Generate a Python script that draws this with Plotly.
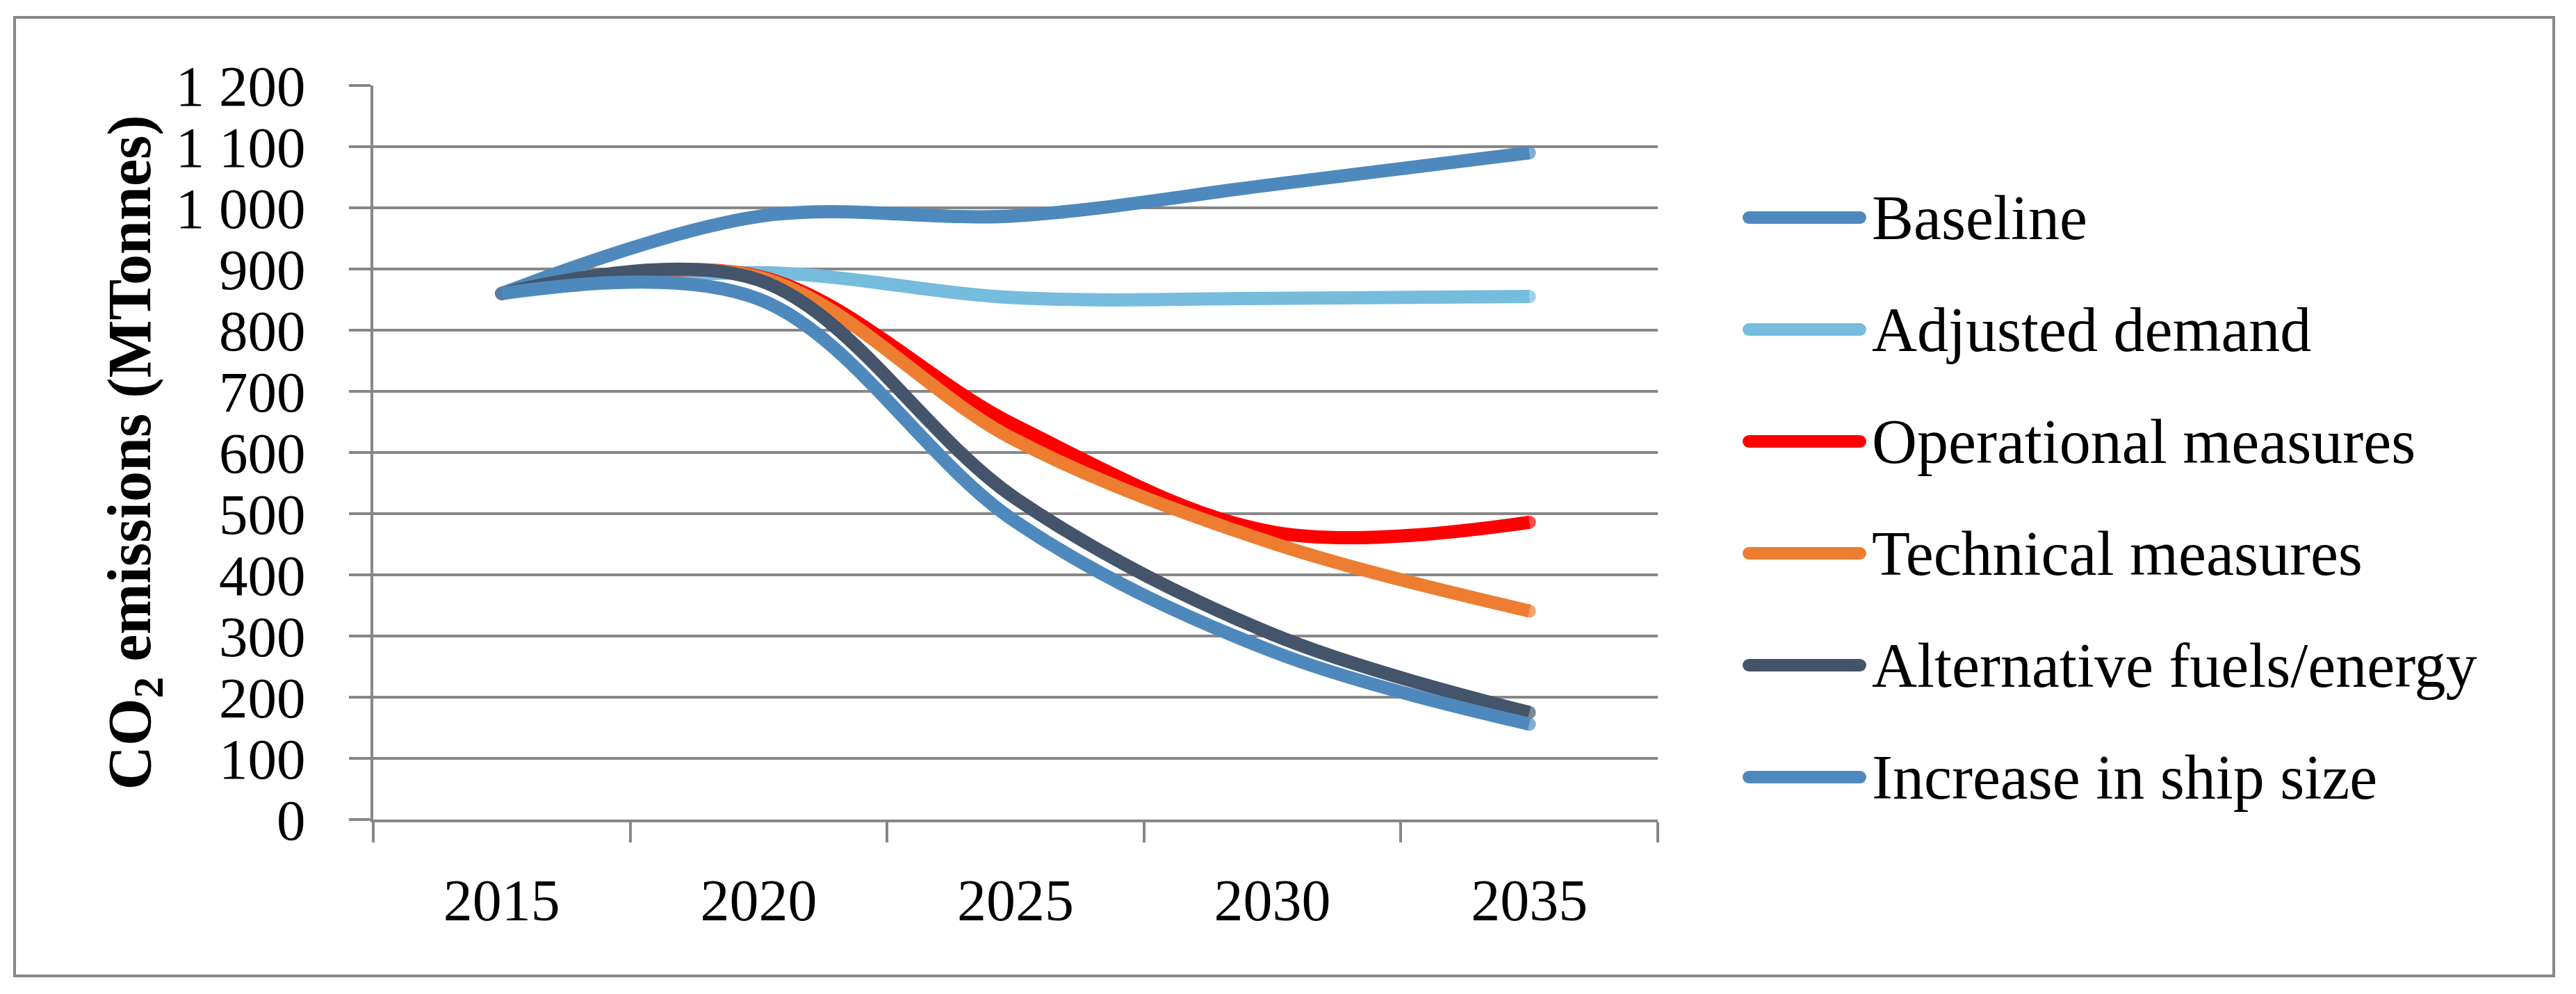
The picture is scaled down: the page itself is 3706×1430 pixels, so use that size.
import plotly.graph_objects as go

# ---- data ----
years = ["2015", "2020", "2025", "2030", "2035"]
baseline = [860, 986, 987, 1038, 1090]
adjusted_demand = [860, 894, 853, 852, 855]
operational = [860, 888, 644, 470, 486]
technical = [860, 887, 620, 452, 341]
alt_fuels = [860, 882, 525, 303, 175]
ship_size = [860, 851, 487, 275, 156]

series_names = ["Baseline", "Adjusted demand", "Operational measures",
                "Technical measures", "Alternative fuels/energy", "Increase in ship size"]
series_values = [baseline, adjusted_demand, operational, technical, alt_fuels, ship_size]
series_colors = ["#4E89BD", "#75BCDD", "#FF0000", "#ED7D31", "#44546A", "#4E89BD"]

y_tickvals = [0, 100, 200, 300, 400, 500, 600, 700, 800, 900, 1000, 1100, 1200]
y_ticktext = ["0", "100", "200", "300", "400", "500", "600", "700", "800", "900",
              "1 000", "1 100", "1 200"]

# ---- layout geometry (pixels) ----
W, H = 3706, 1430
PL, PR, PT, PB = 537, 2385, 123, 1179
FONT = "Liberation Serif"
GRID = "#878787"
LW = 19


def px_x(px):
    return (px - PL) / (PR - PL)


def px_y(py):
    return (PB - py) / (PB - PT)


fig = go.Figure()
for name, vals, col in zip(series_names, series_values, series_colors):
    n = len(vals)
    fig.add_trace(go.Scatter(
        x=years, y=vals, name=name, mode="lines+markers",
        line=dict(color=col, width=LW, shape="spline", smoothing=1.0),
        marker=dict(color=col, size=[LW if i in (0, n - 1) else 0 for i in range(n)],
                    line=dict(width=0)),
        showlegend=False, hoverinfo="x+y+name",
    ))

shapes = []
annotations = []
# outer frame
shapes.append(dict(type="rect", xref="paper", yref="paper",
                   x0=px_x(21), x1=px_x(3674), y0=px_y(1404), y1=px_y(25),
                   line=dict(color=GRID, width=4), layer="below"))
# legend (line samples with rounded ends + labels)
leg_y0, leg_step = 313, 161
lx0, lx1 = 2516, 2676
r = 9
for i, (name, col) in enumerate(zip(series_names, series_colors)):
    yy = px_y(leg_y0 + i * leg_step)
    shapes.append(dict(type="line", xref="paper", yref="paper",
                       x0=px_x(lx0), x1=px_x(lx1), y0=yy, y1=yy,
                       line=dict(color=col, width=18)))
    for cx in (lx0, lx1):
        shapes.append(dict(type="circle", xref="paper", yref="paper",
                           xsizemode="pixel", ysizemode="pixel",
                           xanchor=px_x(cx), yanchor=yy,
                           x0=-r, x1=r, y0=-r, y1=r,
                           fillcolor=col, line=dict(width=0)))
    annotations.append(dict(xref="paper", yref="paper", x=px_x(2691), y=yy,
                            xanchor="left", yanchor="middle", showarrow=False,
                            text=name, font=dict(family=FONT, size=90, color="black")))

fig.update_layout(
    width=W, height=H,
    margin=dict(l=PL, r=W - PR, t=PT, b=H - PB, pad=0),
    paper_bgcolor="white", plot_bgcolor="white",
    font=dict(family=FONT, color="black"),
    shapes=shapes, annotations=annotations,
    showlegend=False,
)
fig.update_xaxes(
    type="category", tickson="boundaries", range=[-0.5, 4.5],
    showgrid=False, showline=True, linecolor=GRID, linewidth=4,
    ticks="outside", ticklen=29, tickwidth=4, tickcolor=GRID,
    tickfont=dict(family=FONT, size=84, color="black"), ticklabelstandoff=40,
)
fig.update_yaxes(
    range=[0, 1200], tickmode="array", tickvals=y_tickvals, ticktext=y_ticktext,
    showgrid=True, gridcolor=GRID, gridwidth=4, zeroline=False,
    showline=True, linecolor=GRID, linewidth=4,
    ticks="outside", ticklen=31, tickwidth=4, tickcolor=GRID,
    tickfont=dict(family=FONT, size=83, color="black"), ticklabelstandoff=46,
    title=dict(text="<b>CO<sub>2</sub> emissions (MTonnes)</b>",
               font=dict(family=FONT, size=88, color="black"), standoff=8),
)

fig.write_html("out.html", config={"displayModeBar": False},
               post_script="document.body.style.margin='0px';")
